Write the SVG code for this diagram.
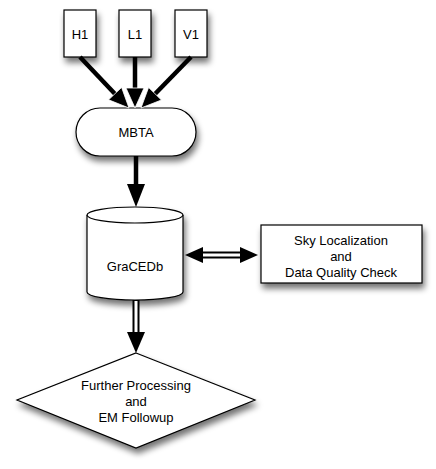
<svg xmlns="http://www.w3.org/2000/svg" width="436" height="469" viewBox="0 0 436 469">
<defs>
<filter id="sh" x="-20%" y="-20%" width="150%" height="160%">
<feGaussianBlur in="SourceAlpha" stdDeviation="3"/>
<feOffset dx="2" dy="5" result="b"/>
<feComponentTransfer><feFuncA type="linear" slope="0.55"/></feComponentTransfer>
<feMerge><feMergeNode/><feMergeNode in="SourceGraphic"/></feMerge>
</filter>
</defs>
<style>
.n{fill:#fff;stroke:#000;stroke-width:1.2}
.t{font-family:"Liberation Sans",Arial,sans-serif;font-size:13px;fill:#000;text-anchor:middle;dominant-baseline:central}
.s{stroke:#000;stroke-width:4.5;fill:none}
.h{fill:#000;stroke:#fff;stroke-width:0.8}
.ho{stroke:#000;stroke-width:7;fill:none}
.hi{stroke:#fff;stroke-width:3;fill:none}
</style>
<rect width="436" height="469" fill="#fff"/>
<g id="H1"><rect class="n" x="64" y="10" width="32" height="47" filter="url(#sh)"/><text class="t" x="80" y="34">H1</text></g>
<g id="L1"><rect class="n" x="119" y="10" width="32" height="47" filter="url(#sh)"/><text class="t" x="135" y="34">L1</text></g>
<g id="V1"><rect class="n" x="175" y="10" width="32" height="47" filter="url(#sh)"/><text class="t" x="191" y="34">V1</text></g>
<g id="MBTA"><rect class="n" x="76" y="108" width="120" height="48" rx="24" ry="24" filter="url(#sh)"/><text class="t" x="136" y="132">MBTA</text></g>
<g id="GraCEDb">
<path class="n" d="M87,215 A48,8 0 0 1 183,215 L183,292 A48,8 0 0 1 87,292 Z" filter="url(#sh)"/>
<path class="n" d="M87,215 A48,8 0 0 0 183,215" fill="none"/>
<text class="t" x="135" y="266">GraCEDb</text>
</g>
<g id="Sky"><rect class="n" x="261" y="225" width="161" height="58" filter="url(#sh)"/>
<text class="t" x="341" y="240">Sky Localization</text>
<text class="t" x="341" y="256">and</text>
<text class="t" x="341" y="272">Data Quality Check</text>
</g>
<g id="Further"><polygon class="n" points="136,353 255,400 136,448 17,400" filter="url(#sh)"/>
<text class="t" x="136" y="385">Further Processing</text>
<text class="t" x="136" y="401">and</text>
<text class="t" x="136" y="417">EM Followup</text>
</g>
<g id="connectors">
<line class="s" x1="80" y1="57" x2="116" y2="95"/>
<line class="s" x1="135" y1="57" x2="135" y2="90"/>
<line class="s" x1="191" y1="57" x2="154" y2="95"/>
<polygon class="h" points="129,108 108.6,99.8 121.6,87.4"/>
<polygon class="h" points="141,108 161.4,100 148.6,87.4"/>
<polygon class="h" points="135,108 126,88 144,88"/>
<line class="s" x1="136" y1="156" x2="136" y2="186"/>
<polygon points="136,207 127,184 145,184" fill="#000"/>
<line class="ho" x1="202" y1="255" x2="241" y2="255"/>
<line class="hi" x1="202" y1="255" x2="241" y2="255"/>
<polygon points="185,255 203,247 203,263" fill="#000"/>
<polygon points="258,255 240,247 240,263" fill="#000"/>
<line class="ho" x1="136" y1="300" x2="136" y2="334"/>
<line class="hi" x1="136" y1="301" x2="136" y2="334"/>
<polygon points="136,353 127,332 145,332" fill="#000"/>
</g>
</svg>
